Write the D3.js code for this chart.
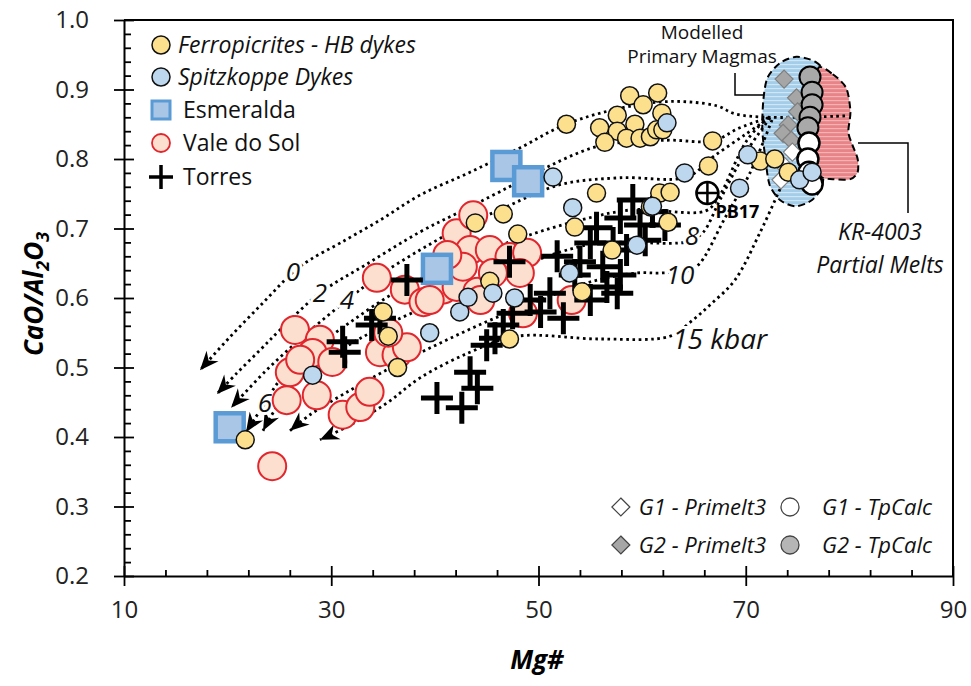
<!DOCTYPE html>
<html><head><meta charset="utf-8">
<script src="https://cdn.jsdelivr.net/npm/d3@7"></script>
<style>
html,body{margin:0;padding:0;background:#fff;}
svg{display:block;font-family:"Open Sans",sans-serif;}
</style></head><body>
<svg id="chart" width="971" height="686"></svg>
<script>
// ---- axes ----
const xTickValues = [10, 30, 50, 70, 90];
const xTickLabels = ["10", "30", "50", "70", "90"];
const yTickValues = [0.2, 0.3, 0.4, 0.5, 0.6, 0.7, 0.8, 0.9, 1.0];
const yTickLabels = ["0.2", "0.3", "0.4", "0.5", "0.6", "0.7", "0.8", "0.9", "1.0"];

// ---- samples: [Mg#, CaO/Al2O3] ----
const ferropicrites = [
  [21.7,0.396],[35.0,0.580],[35.5,0.545],[36.4,0.500],[43.9,0.708],[46.6,0.721],[48.0,0.692],
  [45.3,0.624],[47.2,0.541],[53.5,0.702],[54.2,0.609],[55.6,0.751],[57.1,0.669],[60.8,0.731],
  [61.7,0.751],[62.7,0.752],[62.5,0.709],[52.7,0.850],
  [58.8,0.891],[61.5,0.895],[60.1,0.878],[57.6,0.863],[55.9,0.845],[59.3,0.850],[61.9,0.866],
  [57.6,0.840],[56.4,0.824],[58.5,0.830],[59.8,0.830],[60.8,0.832],[61.4,0.842],[62.0,0.842],
  [66.8,0.826],[66.4,0.790],[71.4,0.797],[72.8,0.800],[74.1,0.781]
];
const spitzkoppe = [
  [28.2,0.489],[39.5,0.550],[42.4,0.580],[43.2,0.601],[45.6,0.607],[47.7,0.600],[53.0,0.636],
  [53.3,0.730],[51.4,0.774],[61.0,0.732],[59.5,0.676],[62.4,0.852],[64.1,0.780],[69.4,0.758],
  [70.2,0.806],[75.2,0.770],[76.4,0.781]
];
const esmeralda = [[20.2,0.414],[40.2,0.642],[46.9,0.790],[49.0,0.768]];
const valeDoSol = [
  [24.3,0.358],[26.5,0.554],[28.9,0.540],[26.0,0.493],[28.2,0.521],[30.1,0.508],[28.6,0.460],
  [31.1,0.432],[32.8,0.443],[33.7,0.465],[34.7,0.522],[36.3,0.518],[37.3,0.529],[34.4,0.629],
  [37.1,0.612],[38.9,0.594],[40.8,0.612],[42.1,0.693],[43.7,0.719],[43.4,0.669],[45.3,0.669],
  [47.2,0.659],[48.9,0.665],[48.2,0.636],[42.1,0.616],[44.1,0.609],[42.7,0.645],[48.5,0.578],
  [53.2,0.597],[39.5,0.597],[41.2,0.662],[45.6,0.636],[27.0,0.511],[35.5,0.550],[25.7,0.453],
  [44.4,0.597]
];
const torres = [
  [31.1,0.537],[31.3,0.522],[34.7,0.571],[33.9,0.561],[37.3,0.626],[47.2,0.652],[40.2,0.456],
  [42.6,0.442],[43.4,0.493],[44.1,0.470],[45.0,0.532],[46.6,0.561],[47.5,0.578],[49.2,0.597],
  [51.1,0.607],[52.4,0.571],[55.0,0.597],[56.6,0.616],[56.2,0.645],[54.0,0.652],[55.0,0.679],
  [57.2,0.679],[58.5,0.669],[57.9,0.715],[59.1,0.741],[59.8,0.705],[61.0,0.724],[62.2,0.705],
  [53.5,0.633],[57.9,0.633],[60.3,0.683],[55.6,0.701],[51.8,0.660],[57.6,0.607],[50.2,0.580],
  [45.8,0.542]
];
const pb17 = [66.3, 0.751];

// ---- modelled primary magmas ----
const g1Primelt3 = [[74.5,0.810],[73.7,0.790],[73.4,0.770]];
const g2Primelt3 = [[73.7,0.915],[74.9,0.888],[75.0,0.868],[74.1,0.849],[73.6,0.837],[74.4,0.827]];
const g1TpCalc = [[76.1,0.823],[76.0,0.800],[76.1,0.781],[76.4,0.764]];
const g2TpCalc = [[76.2,0.918],[76.4,0.896],[76.4,0.878],[76.2,0.860],[76.0,0.845]];

// ---- fields ----
const primaryField = [[74.9,0.947],[76.7,0.940],[77.7,0.921],[77.7,0.870],[77.6,0.813],[77.4,0.763],
  [76.4,0.741],[74.8,0.732],[73.3,0.741],[72.3,0.763],[71.9,0.800],[71.6,0.842],[71.7,0.885],
  [72.1,0.917],[73.3,0.938]];
const krField = [[77.0,0.931],[78.4,0.922],[79.7,0.902],[80.1,0.868],[79.9,0.839],[80.3,0.820],
  [80.8,0.800],[80.8,0.781],[80.1,0.771],[78.4,0.771],[77.2,0.776],[76.7,0.813],[76.7,0.885]];

// ---- fractionation paths by pressure (kbar) ----
const path0 = [[79.58,0.862],[72.34,0.860],[68.96,0.865],[67.32,0.876],[64.62,0.882],[61.72,0.882],
  [57.86,0.873],[52.65,0.850],[48.21,0.816],[43.39,0.781],[38.56,0.748],[34.70,0.712],[30.84,0.679],
  [27.95,0.655],[26.31,0.637],[23.41,0.593],[20.23,0.544],[17.33,0.496]];
const path2 = [[72.34,0.860],[69.44,0.845],[66.84,0.826],[62.40,0.827],[55.93,0.819],[50.63,0.787],
  [46.28,0.753],[42.42,0.724],[38.56,0.695],[33.45,0.649],[28.91,0.607],[25.05,0.554],[23.12,0.525],
  [20.90,0.492],[18.97,0.462]];
const path4 = [[72.34,0.860],[69.93,0.835],[66.84,0.803],[64.33,0.774],[57.86,0.773],[52.07,0.763],
  [46.28,0.727],[42.42,0.701],[38.56,0.669],[34.70,0.633],[31.52,0.597],[27.47,0.547],[23.61,0.494],
  [20.33,0.442]];
const path6 = [[72.15,0.860],[70.12,0.827],[67.22,0.741],[66.07,0.725],[59.12,0.727],[54.00,0.712],
  [48.21,0.686],[42.42,0.652],[36.63,0.612],[31.81,0.565],[27.95,0.522],[25.05,0.482],[23.61,0.449],
  [21.77,0.407]];
const path8 = [[72.34,0.859],[69.73,0.803],[67.51,0.741],[65.87,0.694],[64.62,0.682],[63.36,0.679],
  [55.93,0.679],[52.07,0.666],[46.28,0.633],[40.20,0.594],[34.70,0.557],[30.55,0.522],[26.98,0.485],
  [24.86,0.446],[23.41,0.409]];
const path10 = [[72.53,0.856],[70.41,0.780],[67.99,0.715],[65.58,0.650],[64.62,0.640],[61.72,0.636],
  [59.50,0.636],[54.97,0.623],[50.14,0.597],[45.32,0.568],[40.49,0.535],[35.67,0.499],[31.33,0.463],
  [27.95,0.432],[26.02,0.409]];
const path15 = [[73.79,0.773],[71.37,0.694],[68.96,0.626],[66.55,0.590],[64.62,0.565],[62.69,0.545],
  [55.93,0.541],[47.92,0.545],[43.39,0.522],[38.56,0.485],[35.38,0.449],[31.81,0.417],[28.91,0.396]];
const pathLabels = ["0", "2", "4", "6", "8", "10", "15 kbar"];
const pathLabelAt = [[26.31,0.637],[28.91,0.607],[31.52,0.597],[23.61,0.449],[64.81,0.689],[63.65,0.633],[62.9,0.540]];

// ---------------------------------------------------------------
const svg = d3.select("#chart");
const x = d3.scaleLinear().domain([10, 90]).range([124, 953]);
const y = d3.scaleLinear().domain([0.2, 1.0]).range([576, 20]);
const FONT = '"Open Sans", sans-serif';

const defs = svg.append("defs");
function hatch(id, bg, line) {
  const p = defs.append("pattern").attr("id", id).attr("width", 6).attr("height", 4)
    .attr("patternUnits", "userSpaceOnUse");
  p.append("rect").attr("width", 6).attr("height", 4).attr("fill", bg);
  p.append("rect").attr("y", 0).attr("width", 6).attr("height", 1.2).attr("fill", line);
}
hatch("hatchBlue", "#A3CDE9", "#CFE6F5");
hatch("hatchRed", "#E88387", "#F3B3B5");
defs.append("marker").attr("id", "arrow").attr("markerUnits", "userSpaceOnUse")
  .attr("viewBox", "-20 -10 22 20").attr("refX", 0).attr("refY", 0)
  .attr("markerWidth", 22).attr("markerHeight", 20).attr("orient", "auto")
  .append("path").attr("d", "M0,0 L-19,-8 L-13,0 L-19,8 Z").attr("fill", "#000");

// fields
const closed = d3.line().x(d => x(d[0])).y(d => y(d[1])).curve(d3.curveCardinalClosed.tension(0.2));
svg.append("path").attr("d", closed(primaryField)).attr("fill", "url(#hatchBlue)")
  .attr("stroke", "#000").attr("stroke-width", 2).attr("stroke-dasharray", "7 4");
svg.append("path").attr("d", closed(krField)).attr("fill", "url(#hatchRed)")
  .attr("stroke", "#000").attr("stroke-width", 2).attr("stroke-dasharray", "7 4");

// fractionation paths
const open = d3.line().x(d => x(d[0])).y(d => y(d[1])).curve(d3.curveCatmullRom.alpha(0.5));
const allPaths = [path0, path2, path4, path6, path8, path10, path15];
svg.append("g").selectAll("path").data(allPaths).join("path")
  .attr("d", open).attr("fill", "none").attr("stroke", "#000").attr("stroke-width", 2.8)
  .attr("stroke-dasharray", "2.6 3.6").attr("marker-end", "url(#arrow)");
svg.append("g").selectAll("text").data(pathLabels).join("text")
  .attr("x", (d, i) => x(pathLabelAt[i][0])).attr("y", (d, i) => y(pathLabelAt[i][1]) + 9)
  .attr("text-anchor", (d, i) => i === 6 ? "start" : "middle")
  .attr("font-family", FONT).attr("font-style", "italic").attr("font-size", (d, i) => i === 6 ? 28 : 26)
  .attr("fill", "#111")
  .attr("stroke", "#fff").attr("stroke-width", 6).attr("paint-order", "stroke").text(d => d);

// markers
function circles(data, r, fill, stroke, sw) {
  svg.append("g").selectAll("circle").data(data).join("circle")
    .attr("cx", d => x(d[0])).attr("cy", d => y(d[1])).attr("r", r)
    .attr("fill", fill).attr("stroke", stroke).attr("stroke-width", sw);
}
function diamonds(data, h, fill, stroke) {
  svg.append("g").selectAll("path").data(data).join("path")
    .attr("transform", d => `translate(${x(d[0])},${y(d[1])})`)
    .attr("d", `M0,${-h}L${h},0L0,${h}L${-h},0Z`)
    .attr("fill", fill).attr("stroke", stroke).attr("stroke-width", 1.2);
}
circles(valeDoSol, 14, "#FCDFCF", "#E1262D", 2);
svg.append("g").selectAll("rect").data(esmeralda).join("rect")
  .attr("x", d => x(d[0]) - 14).attr("y", d => y(d[1]) - 14).attr("width", 28).attr("height", 28)
  .attr("fill", "#A9C6E6").attr("stroke", "#5B9BD5").attr("stroke-width", 4.5);
svg.append("g").selectAll("path").data(torres).join("path")
  .attr("transform", d => `translate(${x(d[0])},${y(d[1])})`)
  .attr("d", "M-16,0H16M0,-16V16").attr("stroke", "#000").attr("stroke-width", 5);
diamonds(g2Primelt3, 9, "#A6A6A6", "#7F7F7F");
diamonds(g1Primelt3, 9, "#FFFFFF", "#7F7F7F");
circles(g2TpCalc, 10.5, "#A9A9A9", "#000", 2);
circles(g1TpCalc, 10.5, "#FFFFFF", "#000", 2.5);
circles(ferropicrites, 9, "#FCE08E", "#111", 1.5);
circles(spitzkoppe, 9, "#BDD7EE", "#111", 1.5);
// PB17
const pb = svg.append("g").attr("transform", `translate(${x(pb17[0])},${y(pb17[1])})`);
pb.append("circle").attr("r", 11).attr("fill", "#fff").attr("stroke", "#000").attr("stroke-width", 2.5);
pb.append("path").attr("d", "M-11,0H11M0,-11V11").attr("stroke", "#000").attr("stroke-width", 2.5);
svg.append("text").attr("x", x(pb17[0]) + 8).attr("y", y(pb17[1]) + 25)
  .attr("font-family", FONT).attr("font-weight", "bold").attr("font-size", 18).text("PB17");

// callouts
svg.append("path").attr("d", "M735,73V95H763").attr("fill", "none").attr("stroke", "#000").attr("stroke-width", 1.5);
svg.append("path").attr("d", "M858,143H908V213").attr("fill", "none").attr("stroke", "#000").attr("stroke-width", 1.5);
const note = (t, tx, ty, size, style) => svg.append("text").attr("x", tx).attr("y", ty)
  .attr("text-anchor", "middle").attr("font-family", FONT).attr("font-size", size)
  .attr("font-style", style).attr("fill", "#111").text(t);
note("Modelled", 702, 39, 19, "normal");
note("Primary Magmas", 702, 63, 19, "normal");
note("KR-4003", 880, 240, 23, "italic");
note("Partial Melts", 880, 273, 23, "italic");

// axes
function styleAxis(g) {
  g.select(".domain").attr("stroke-width", 2);
  g.selectAll(".tick line").attr("stroke-width", 1.8);
  g.selectAll("text").attr("font-family", FONT).attr("font-size", 24).attr("fill", "#222");
}
svg.append("g").attr("transform", `translate(0,${y(0.2)})`)
  .call(d3.axisBottom(x).tickValues(xTickValues).tickFormat((d, i) => xTickLabels[i])
    .tickSize(10).tickSizeOuter(0).tickPadding(15)).call(styleAxis);
svg.append("g").attr("transform", `translate(0,${y(0.2)})`)
  .call(d3.axisBottom(x).tickValues(xTickValues).tickSize(-10).tickFormat(""))
  .call(g => g.select(".domain").remove()).call(styleAxis);
svg.append("g").attr("transform", `translate(0,${y(0.2)})`)
  .call(d3.axisBottom(x).tickValues(d3.range(14, 90, 4).filter(v => (v - 10) % 20 !== 0))
    .tickSize(-6).tickFormat("")).call(g => g.select(".domain").remove()).call(styleAxis);

svg.append("g").attr("transform", `translate(${x(10)},0)`)
  .call(d3.axisLeft(y).tickValues(yTickValues).tickFormat((d, i) => yTickLabels[i])
    .tickSize(10).tickSizeOuter(0).tickPadding(25)).call(styleAxis);
svg.append("g").attr("transform", `translate(${x(10)},0)`)
  .call(d3.axisLeft(y).tickValues(yTickValues).tickSize(-10).tickFormat(""))
  .call(g => g.select(".domain").remove()).call(styleAxis);
svg.append("g").attr("transform", `translate(${x(10)},0)`)
  .call(d3.axisLeft(y).tickValues(d3.range(0.22, 1.0, 0.02).filter(v => Math.abs(v * 10 - Math.round(v * 10)) > 0.05))
    .tickSize(-7).tickFormat("")).call(g => g.select(".domain").remove()).call(styleAxis);
// frame
svg.append("path").attr("d", `M${x(10)},${y(1)}H${x(90)}V${y(0.2)}`)
  .attr("fill", "none").attr("stroke", "#000").attr("stroke-width", 2);

// axis titles
svg.append("text").attr("x", 537).attr("y", 669).attr("text-anchor", "middle")
  .attr("font-family", FONT).attr("font-weight", "bold").attr("font-style", "italic")
  .attr("font-size", 26).text("Mg#");
const yt = svg.append("text").attr("transform", "translate(43,294) rotate(-90)")
  .attr("text-anchor", "middle").attr("font-family", FONT).attr("font-weight", "bold")
  .attr("font-style", "italic").attr("font-size", 26);
yt.append("tspan").text("CaO/Al");
yt.append("tspan").attr("dy", 6).attr("font-size", 18).text("2");
yt.append("tspan").attr("dy", -6).text("O");
yt.append("tspan").attr("dy", 6).attr("font-size", 18).text("3");

// legend (upper left)
const legend = [
  { name: "Ferropicrites - HB dykes", italic: true, type: "yellow" },
  { name: "Spitzkoppe Dykes", italic: true, type: "blue" },
  { name: "Esmeralda", italic: false, type: "square" },
  { name: "Vale do Sol", italic: false, type: "pink" },
  { name: "Torres", italic: false, type: "cross" }
];
const legendY = [45, 77, 110, 143, 177];
legend.forEach((d, i) => {
  const g = svg.append("g").attr("transform", `translate(161,${legendY[i]})`);
  if (d.type === "yellow") g.append("circle").attr("r", 9).attr("fill", "#FCE08E").attr("stroke", "#111").attr("stroke-width", 1.5);
  if (d.type === "blue") g.append("circle").attr("r", 9).attr("fill", "#BDD7EE").attr("stroke", "#111").attr("stroke-width", 1.5);
  if (d.type === "pink") g.append("circle").attr("r", 9).attr("fill", "#FCDFCF").attr("stroke", "#E1262D").attr("stroke-width", 1.8);
  if (d.type === "square") g.append("rect").attr("x", -9).attr("y", -9).attr("width", 18).attr("height", 18)
    .attr("fill", "#A9C6E6").attr("stroke", "#5B9BD5").attr("stroke-width", 3);
  if (d.type === "cross") g.append("path").attr("d", "M-12,0H12M0,-12V12").attr("stroke", "#000").attr("stroke-width", 3.5);
  g.append("text").attr("x", d.italic ? 17 : 22).attr("y", 0).attr("dy", "0.35em")
    .attr("font-family", FONT).attr("font-size", 23).attr("font-style", d.italic ? "italic" : "normal")
    .attr("fill", "#111").text(d.name);
});

// legend (lower right)
const modelLegend = [
  { name: "G1 - Primelt3", shape: "diamond", fill: "#FFFFFF", col: 0, row: 0 },
  { name: "G1 - TpCalc", shape: "circle", fill: "#FFFFFF", col: 1, row: 0 },
  { name: "G2 - Primelt3", shape: "diamond", fill: "#A6A6A6", col: 0, row: 1 },
  { name: "G2 - TpCalc", shape: "circle", fill: "#B5B5B5", col: 1, row: 1 }
];
const rowY = [507, 545];
modelLegend.forEach(d => {
  const ty = rowY[d.row];
  if (d.col === 1) {
    svg.append("circle").attr("cx", 790).attr("cy", ty).attr("r", 9).attr("fill", d.fill)
      .attr("stroke", "#444").attr("stroke-width", 1.3);
    svg.append("text").attr("x", 822).attr("y", ty).attr("dy", "0.35em").attr("font-family", FONT)
      .attr("font-size", 22).attr("font-style", "italic").attr("fill", "#111").text(d.name);
  } else {
    const t = svg.append("text").attr("x", 766).attr("y", ty).attr("dy", "0.35em").attr("text-anchor", "end")
      .attr("font-family", FONT).attr("font-size", 22).attr("font-style", "italic").attr("fill", "#111").text(d.name);
    const w = t.node().getComputedTextLength();
    svg.append("path").attr("transform", `translate(${766 - w - 18},${ty})`)
      .attr("d", "M0,-9L9,0L0,9L-9,0Z").attr("fill", d.fill).attr("stroke", "#444").attr("stroke-width", 1.2);
  }
});
</script>
</body></html>
